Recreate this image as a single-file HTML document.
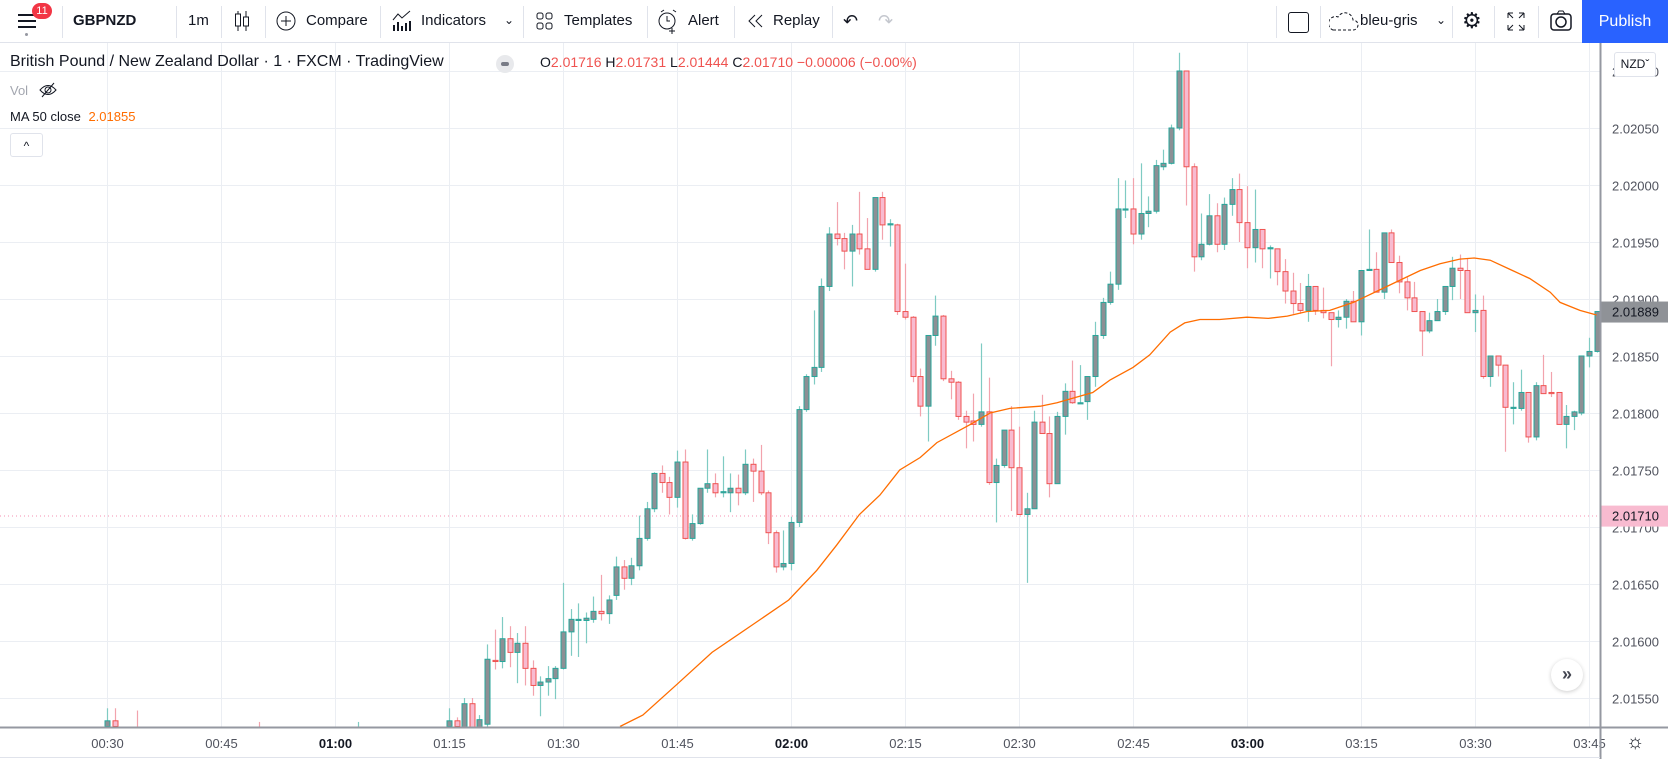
<!DOCTYPE html>
<html><head><meta charset="utf-8">
<style>
html,body{margin:0;padding:0;width:1668px;height:759px;overflow:hidden;background:#fff;font-family:"Liberation Sans",sans-serif;color:#131722}
.tb{position:absolute;top:0;left:0;width:1668px;height:42px;border-bottom:1px solid #e0e3eb;background:#fff}
.tb .it{position:absolute;top:0;height:42px;line-height:42px;font-size:15px;color:#131722}
.sep{position:absolute;top:6px;width:1px;height:32px;background:#e0e3eb}
.abs{position:absolute}
</style></head><body>
<div class="tb">
  <div class="it" style="left:18px;width:22px">
    <div class="abs" style="left:0;top:14px;width:18px;height:2px;background:#131722"></div>
    <div class="abs" style="left:0;top:20px;width:18px;height:2px;background:#131722"></div>
    <div class="abs" style="left:0;top:26px;width:18px;height:2px;background:#131722"></div>
    <div class="abs" style="left:7px;top:33px;width:3px;height:3px;border-radius:2px;background:#9598a1"></div>
    <div class="abs" style="left:14px;top:3px;width:20px;height:16px;border-radius:8px;background:#f23645;color:#fff;font-size:11px;line-height:16px;text-align:center">11</div>
  </div>
  <div class="sep" style="left:62px"></div>
  <div class="it" style="left:73px;font-weight:bold">GBPNZD</div>
  <div class="sep" style="left:176px"></div>
  <div class="it" style="left:188px">1m</div>
  <div class="sep" style="left:221px"></div>
  <div class="it" style="left:233px"><svg width="18" height="42"><path d="M5 11v20M13 11v20" stroke="#131722"/><rect x="2.5" y="14" width="5" height="12" fill="#fff" stroke="#131722"/><rect x="10.5" y="17" width="5" height="9" fill="#fff" stroke="#131722"/></svg></div>
  <div class="sep" style="left:265px"></div>
  <div class="it" style="left:276px"><svg width="22" height="42" style="vertical-align:top"><circle cx="10" cy="21" r="9" fill="none" stroke="#131722"/><path d="M10 16v10M5 21h10" stroke="#131722"/></svg><span style="position:absolute;left:30px;top:0">Compare</span></div>
  <div class="sep" style="left:380px"></div>
  <div class="it" style="left:391px;width:130px"><svg width="22" height="42" style="vertical-align:top"><path d="M2 20l5-6 4 4 8-7" fill="none" stroke="#131722"/><path d="M3 31v-6M7 31v-9M11 31v-5M15 31v-8M19 31v-10" stroke="#131722" stroke-width="2"/></svg><span style="position:absolute;left:30px;top:0">Indicators</span><span style="position:absolute;left:113px;top:-1px;font-size:12px">&#8964;</span></div>
  <div class="sep" style="left:523px"></div>
  <div class="it" style="left:535px"><svg width="20" height="42" style="vertical-align:top"><rect x="2" y="13" width="6" height="6" rx="2" fill="none" stroke="#131722"/><rect x="11" y="13" width="6" height="6" rx="2" fill="none" stroke="#131722"/><rect x="2" y="23" width="6" height="6" rx="2" fill="none" stroke="#131722"/><rect x="11" y="23" width="6" height="6" rx="2" fill="none" stroke="#131722"/></svg><span style="position:absolute;left:29px;top:0">Templates</span></div>
  <div class="sep" style="left:647px"></div>
  <div class="it" style="left:657px"><svg width="22" height="42" style="vertical-align:top"><circle cx="10" cy="21" r="8" fill="none" stroke="#131722"/><path d="M10 16v5h3M4 12l3-2M16 10l3 2M15 28v6M12 31h6" stroke="#131722" fill="none"/></svg><span style="position:absolute;left:31px;top:0">Alert</span></div>
  <div class="sep" style="left:734px"></div>
  <div class="it" style="left:747px"><svg width="18" height="42" style="vertical-align:top"><path d="M8 15l-6 6 6 6M15 15l-6 6 6 6" fill="none" stroke="#131722"/></svg><span style="position:absolute;left:26px;top:0">Replay</span></div>
  <div class="sep" style="left:832px"></div>
  <div class="it" style="left:843px;font-size:18px">&#8630;</div>
  <div class="it" style="left:878px;font-size:18px;color:#c4c7ce">&#8631;</div>
  <div class="sep" style="left:1276px"></div>
  <div class="it" style="left:1288px"><div class="abs" style="left:0;top:12px;width:19px;height:19px;border:1.5px solid #131722;border-radius:3px"></div></div>
  <div class="sep" style="left:1320px"></div>
  <div class="it" style="left:1329px;width:120px"><svg width="30" height="42" style="vertical-align:top"><path d="M4 30h20a5 5 0 0 0 0-10a8 8 0 0 0-15-3a6 6 0 0 0-5 13z" fill="none" stroke="#131722" stroke-dasharray="3 2"/></svg><span style="position:absolute;left:31px;top:0">bleu-gris</span><span style="position:absolute;left:107px;top:-1px;font-size:12px">&#8964;</span></div>
  <div class="sep" style="left:1452px"></div>
  <div class="it" style="left:1462px;font-size:22px">&#9881;</div>
  <div class="sep" style="left:1494px"></div>
  <div class="it" style="left:1506px"><svg width="20" height="42"><path d="M2 13h5M2 13v5M2 13l5 5M18 13h-5M18 13v5M18 13l-5 5M2 30h5M2 30v-5M2 30l5-5M18 30h-5M18 30v-5M18 30l-5-5" stroke="#131722" fill="none"/></svg></div>
  <div class="sep" style="left:1538px"></div>
  <div class="it" style="left:1549px"><svg width="24" height="42"><rect x="2" y="14" width="20" height="16" rx="3" fill="none" stroke="#131722" stroke-width="1.5"/><circle cx="12" cy="22" r="5" fill="none" stroke="#131722" stroke-width="1.5"/><path d="M8 14l2-3h4l2 3" fill="none" stroke="#131722"/></svg></div>
  <div class="abs" style="left:1582px;top:0;width:86px;height:43px;background:#2962ff;color:#fff;font-size:16px;line-height:43px;text-align:center">Publish</div>
</div>

<svg id="chart" class="abs" style="left:0;top:0" width="1668" height="759">
  <defs><clipPath id="plotclip"><rect x="0" y="43" width="1600" height="684"/></clipPath></defs>
  <g id="grid"></g>
  <line x1="0" x2="1600" y1="516" y2="516" stroke="#f48fb1" stroke-dasharray="1 3"/>
  <g id="candles" clip-path="url(#plotclip)"></g>
  <path id="ma" clip-path="url(#plotclip)" fill="none" stroke="#ff6d00" stroke-width="1.3"/>
  <g id="yaxis"></g>
  <g id="xaxis"></g>
  <line x1="0" x2="1668" y1="727.5" y2="727.5" stroke="#9598a1" stroke-width="2"/>
  <line x1="1600.5" x2="1600.5" y1="43" y2="759" stroke="#9598a1" stroke-width="2"/>
  <line x1="0" x2="1600" y1="757.5" y2="757.5" stroke="#e0e3eb"/>
</svg>

<div class="abs" style="left:10px;top:53px;font-size:16px;white-space:nowrap">British Pound / New Zealand Dollar · 1 · FXCM · TradingView</div>
<div class="abs" style="left:496px;top:55px;width:18px;height:18px;border-radius:9px;background:#e8e9ec"><div class="abs" style="left:5px;top:7px;width:8px;height:4px;border-radius:2px;background:#787b86"></div></div>
<div class="abs" style="left:540px;top:54px;font-size:14px;white-space:nowrap;color:#ef5350"><span style="color:#131722">O</span>2.01716 <span style="color:#131722">H</span>2.01731 <span style="color:#131722">L</span>2.01444 <span style="color:#131722">C</span>2.01710 −0.00006 (−0.00%)</div>
<div class="abs" style="left:10px;top:83px;font-size:13px;color:#a3a6af">Vol</div>
<svg class="abs" style="left:38px;top:80px" width="20" height="20"><path d="M2 10q8-9 16 0q-8 9-16 0z" fill="none" stroke="#131722"/><circle cx="10" cy="10" r="3" fill="none" stroke="#131722"/><path d="M4 17L16 3" stroke="#131722"/></svg>
<div class="abs" style="left:10px;top:109px;font-size:13px;color:#131722;white-space:nowrap">MA 50 close <span style="color:#ff6d00;margin-left:4px">2.01855</span></div>
<div class="abs" style="left:10px;top:133px;width:31px;height:22px;border:1px solid #e0e3eb;border-radius:3px;text-align:center;font-size:12px;line-height:24px">&#94;</div>
<div class="abs" style="left:1614px;top:52px;width:40px;height:23px;border:1px solid #e0e3eb;border-radius:3px;background:#fff;font-size:12px;line-height:23px;text-align:center">NZD&#711;</div>
<div class="abs" style="left:1551px;top:659px;width:32px;height:32px;border-radius:16px;background:#fff;box-shadow:0 1px 4px rgba(0,0,0,.2);text-align:center;line-height:30px;font-size:18px;font-weight:bold;color:#434651">»</div>
<div class="abs" style="left:1626px;top:731px;font-size:20px;color:#131722">&#9788;</div>

<script>
const times=[30,31,34,50,63,75,76,77,78,79,80,81,82,83,84,85,86,87,88,89,90,91,92,93,94,95,96,97,98,99,100,101,102,103,104,105,106,107,108,109,110,111,112,113,114,115,116,117,118,119,120,121,122,123,124,125,126,127,128,129,130,131,132,133,134,135,136,137,138,139,140,141,142,143,144,145,146,147,148,149,150,151,152,153,154,155,156,157,158,159,160,161,162,163,164,165,166,167,168,169,170,171,172,173,174,175,176,177,178,179,180,181,182,183,184,185,186,187,188,189,190,191,192,193,194,195,196,197,198,199,200,201,202,203,204,205,206,207,208,209,210,211,212,213,214,215,216,217,218,219,220,221,222,223,224,225,226];
const opens=[2.01525,2.01530,2.01520,2.01520,2.01515,2.01525,2.01530,2.01510,2.01545,2.01520,2.01527,2.01583,2.01582,2.01602,2.01590,2.01598,2.01576,2.01561,2.01564,2.01567,2.01576,2.01608,2.01618,2.01618,2.01619,2.01626,2.01624,2.01640,2.01665,2.01655,2.01666,2.01690,2.01716,2.01747,2.01739,2.01726,2.01757,2.01690,2.01703,2.01734,2.01738,2.01730,2.01730,2.01734,2.01730,2.01755,2.01749,2.01730,2.01695,2.01665,2.01668,2.01704,2.01803,2.01832,2.01840,2.01911,2.01957,2.01953,2.01942,2.01957,2.01944,2.01926,2.01989,2.01965,2.01965,2.01889,2.01884,2.01832,2.01806,2.01868,2.01885,2.01830,2.01827,2.01797,2.01793,2.01790,2.01801,2.01739,2.01754,2.01785,2.01752,2.01711,2.01716,2.01792,2.01782,2.01738,2.01797,2.01819,2.01808,2.01810,2.01832,2.01868,2.01897,2.01913,2.01978,2.01979,2.01957,2.01975,2.01977,2.02016,2.02019,2.02050,2.02100,2.02016,2.01937,2.01948,2.01973,2.01948,2.01983,2.01996,2.01967,2.01945,2.01961,2.01944,2.01944,2.01924,2.01907,2.01896,2.01890,2.01911,2.01890,2.01888,2.01882,2.01884,2.01898,2.01880,2.01925,2.01926,2.01906,2.01958,2.01932,2.01915,2.01901,2.01889,2.01872,2.01881,2.01889,2.01911,2.01927,2.01925,2.01888,2.01890,2.01832,2.01850,2.01842,2.01804,2.01804,2.01818,2.01779,2.01824,2.01818,2.01818,2.01790,2.01797,2.01800,2.01850,2.01854];
const highs=[2.01541,2.01541,2.01539,2.01529,2.01529,2.01541,2.01533,2.01550,2.01550,2.01535,2.01597,2.01610,2.01621,2.01613,2.01607,2.01613,2.01583,2.01569,2.01578,2.01578,2.01651,2.01628,2.01633,2.01625,2.01639,2.01658,2.01640,2.01674,2.01671,2.01673,2.01710,2.01722,2.01748,2.01754,2.01744,2.01767,2.01768,2.01711,2.01734,2.01768,2.01747,2.01762,2.01747,2.01746,2.01768,2.01760,2.01772,2.01732,2.01697,2.01697,2.01709,2.01806,2.01834,2.01890,2.01918,2.01963,2.01985,2.01958,2.01965,2.01994,2.01971,2.01989,2.01994,2.01970,2.01966,2.01931,2.01885,2.01839,2.01868,2.01903,2.01886,2.01837,2.01828,2.01802,2.01817,2.01861,2.01831,2.01760,2.01785,2.01806,2.01788,2.01730,2.01802,2.01816,2.01797,2.01801,2.01826,2.01846,2.01842,2.01832,2.01880,2.01901,2.01924,2.02006,2.02004,2.02006,2.02019,2.01990,2.02022,2.02031,2.02053,2.02116,2.02100,2.02019,2.01975,2.01992,2.01984,2.01989,2.02006,2.02010,2.01999,2.01996,2.01961,2.01947,2.01944,2.01935,2.01923,2.01914,2.01922,2.01911,2.01910,2.01888,2.01890,2.01900,2.01907,2.01925,2.01961,2.01941,2.01958,2.01961,2.01938,2.01919,2.01915,2.01889,2.01888,2.01900,2.01911,2.01937,2.01939,2.01936,2.01904,2.01903,2.01850,2.01850,2.01842,2.01827,2.01838,2.01818,2.01827,2.01851,2.01836,2.01818,2.01807,2.01802,2.01850,2.01866,2.01889];
const lows=[2.01510,2.01515,2.01510,2.01515,2.01510,2.01520,2.01520,2.01505,2.01505,2.01515,2.01522,2.01575,2.01576,2.01577,2.01563,2.01561,2.01552,2.01534,2.01552,2.01549,2.01575,2.01587,2.01586,2.01598,2.01616,2.01618,2.01615,2.01636,2.01645,2.01649,2.01662,2.01688,2.01713,2.01730,2.01711,2.01717,2.01689,2.01688,2.01702,2.01730,2.01726,2.01726,2.01713,2.01719,2.01728,2.01722,2.01728,2.01685,2.01660,2.01662,2.01662,2.01700,2.01801,2.01825,2.01836,2.01907,2.01947,2.01926,2.01911,2.01939,2.01926,2.01924,2.01952,2.01946,2.01886,2.01882,2.01827,2.01797,2.01775,2.01859,2.01828,2.01812,2.01794,2.01769,2.01775,2.01788,2.01737,2.01704,2.01752,2.01714,2.01711,2.01651,2.01716,2.01782,2.01726,2.01738,2.01781,2.01808,2.01808,2.01794,2.01823,2.01865,2.01895,2.01908,2.01971,2.01948,2.01952,2.01963,2.01975,2.02013,2.02018,2.02048,2.01982,2.01924,2.01934,2.01947,2.01941,2.01943,2.01973,2.01950,2.01927,2.01932,2.01927,2.01918,2.01912,2.01896,2.01887,2.01887,2.01880,2.01886,2.01883,2.01841,2.01875,2.01874,2.01880,2.01868,2.01925,2.01906,2.01900,2.01932,2.01905,2.01890,2.01889,2.01850,2.01870,2.01881,2.01886,2.01899,2.01900,2.01888,2.01871,2.01830,2.01823,2.01832,2.01766,2.01790,2.01802,2.01774,2.01776,2.01817,2.01814,2.01790,2.01769,2.01785,2.01798,2.01840,2.01853];
const closes=[2.01530,2.01525,2.01518,2.01518,2.01520,2.01530,2.01525,2.01545,2.01512,2.01531,2.01584,2.01582,2.01602,2.01590,2.01598,2.01576,2.01561,2.01564,2.01567,2.01576,2.01608,2.01619,2.01619,2.01620,2.01626,2.01624,2.01636,2.01665,2.01655,2.01666,2.01690,2.01716,2.01747,2.01739,2.01726,2.01757,2.01690,2.01703,2.01734,2.01738,2.01730,2.01731,2.01734,2.01730,2.01755,2.01749,2.01730,2.01695,2.01665,2.01668,2.01704,2.01803,2.01832,2.01840,2.01911,2.01957,2.01953,2.01942,2.01957,2.01944,2.01926,2.01989,2.01965,2.01966,2.01889,2.01884,2.01832,2.01806,2.01868,2.01885,2.01830,2.01827,2.01797,2.01792,2.01790,2.01801,2.01739,2.01754,2.01785,2.01752,2.01711,2.01716,2.01792,2.01782,2.01738,2.01797,2.01819,2.01809,2.01809,2.01832,2.01868,2.01897,2.01913,2.01979,2.01979,2.01957,2.01975,2.01977,2.02017,2.02019,2.02050,2.02100,2.02016,2.01937,2.01948,2.01973,2.01948,2.01983,2.01996,2.01967,2.01945,2.01961,2.01944,2.01945,2.01924,2.01907,2.01896,2.01890,2.01911,2.01890,2.01888,2.01882,2.01884,2.01898,2.01880,2.01925,2.01926,2.01906,2.01958,2.01932,2.01915,2.01901,2.01889,2.01872,2.01881,2.01889,2.01911,2.01927,2.01925,2.01888,2.01890,2.01832,2.01850,2.01842,2.01805,2.01805,2.01818,2.01779,2.01824,2.01817,2.01817,2.01790,2.01797,2.01801,2.01850,2.01854,2.01889];
const maMinutes=[97.5,100.5,105,109.6,114.9,119.7,123.4,126,129,131.7,134.3,137,139.2,143.6,146.2,148.8,152.8,155,159.7,162,165,167.2,169.9,171.8,173.8,176.4,180,182.8,185.3,187.9,190.9,194,198.4,202.8,205.4,208,209.9,212,214.6,217.2,219.9,221.2,223.8,226];
const maValues=[2.01525,2.01535,2.01562,2.01590,2.01614,2.01636,2.01662,2.01684,2.01711,2.01728,2.01750,2.01761,2.01774,2.01790,2.01800,2.01804,2.01806,2.01809,2.01818,2.01829,2.01840,2.01851,2.01871,2.01879,2.01882,2.01882,2.01884,2.01883,2.01885,2.01889,2.01890,2.01897,2.01911,2.01925,2.01931,2.01935,2.01936,2.01934,2.01926,2.01918,2.01906,2.01897,2.01890,2.01886];
const priceTicks=[2.02100,2.02050,2.02000,2.01950,2.01900,2.01850,2.01800,2.01750,2.01700,2.01650,2.01600,2.01550];
const timeTicks=[30,45,60,75,90,105,120,135,150,165,180,195,210,225];
const timeLabels=["00:30","00:45","01:00","01:15","01:30","01:45","02:00","02:15","02:30","02:45","03:00","03:15","03:30","03:45"];

function xOf(m){return 449+(m-75)*7.6;}
function yOf(p){return 185+(2.02-p)*114000;}
const NS="http://www.w3.org/2000/svg";
function mk(tag,attrs,parent){const e=document.createElementNS(NS,tag);for(const k in attrs)e.setAttribute(k,attrs[k]);parent.appendChild(e);return e;}
const grid=document.getElementById('grid'),cg=document.getElementById('candles'),ya=document.getElementById('yaxis'),xa=document.getElementById('xaxis');
priceTicks.forEach(p=>{
  const y=Math.round(yOf(p))+0.5;
  const l=mk('line',{x1:0,x2:1600,y1:y,y2:y,stroke:'#ebeef3'},grid);
  
  
  const t=mk('text',{x:1612,y:y+5,'font-size':13,fill:'#50535e','font-family':'Liberation Sans, sans-serif'},ya);
  t.textContent=p.toFixed(5);
  
  
});
timeTicks.forEach((m,i)=>{
  const x=Math.round(xOf(m))+0.5;
  const l=mk('line',{x1:x,x2:x,y1:43,y2:727,stroke:'#ebeef3'},grid);
  
  
  const bold=timeLabels[i].endsWith(':00');
  const t=mk('text',{x:x,y:748,'font-size':13,fill:bold?'#131722':'#50535e','font-weight':bold?'bold':'normal','text-anchor':'middle','font-family':'Liberation Sans, sans-serif'},xa);
  t.textContent=timeLabels[i];
  
  
});
for(let i=0;i<times.length;i++){
  const x=Math.round(xOf(times[i]))+0.5;
  const up=closes[i]>=opens[i];
  const w=mk('line',{x1:x,x2:x,y1:yOf(highs[i]),y2:yOf(lows[i]),stroke:up?'#7fcbc3':'#f2a3ad','stroke-width':1.2},cg);
  
  
  const yt=yOf(Math.max(opens[i],closes[i])),yb=yOf(Math.min(opens[i],closes[i]));
  const b=mk('rect',{x:x-2.5,y:yt,width:5,height:Math.max(1,yb-yt),fill:up?'#8d9095':'#f8bbd0',stroke:up?'#26a69a':'#ef5350','stroke-width':1},cg);
  
  
}
let d='';
maMinutes.forEach((m,i)=>{d+=(i?'L':'M')+xOf(m).toFixed(1)+' '+yOf(maValues[i]).toFixed(1);});
document.getElementById('ma').setAttribute('d',d);
// price tags
function tag(p,bg,name){
  const y=yOf(p);
  const r=mk('rect',{x:1601,y:y-10,width:67,height:21,fill:bg},ya);
  
  
  const t=mk('text',{x:1612,y:y+5,'font-size':13,fill:'#131722','font-family':'Liberation Sans, sans-serif'},ya);
  t.textContent=p.toFixed(5);
  
  
}
tag(closes[closes.length-1],'#8f9297','ma-price-tag');
tag(2.01710,'#f8bbd0','last-price-tag');
</script>
</body></html>
